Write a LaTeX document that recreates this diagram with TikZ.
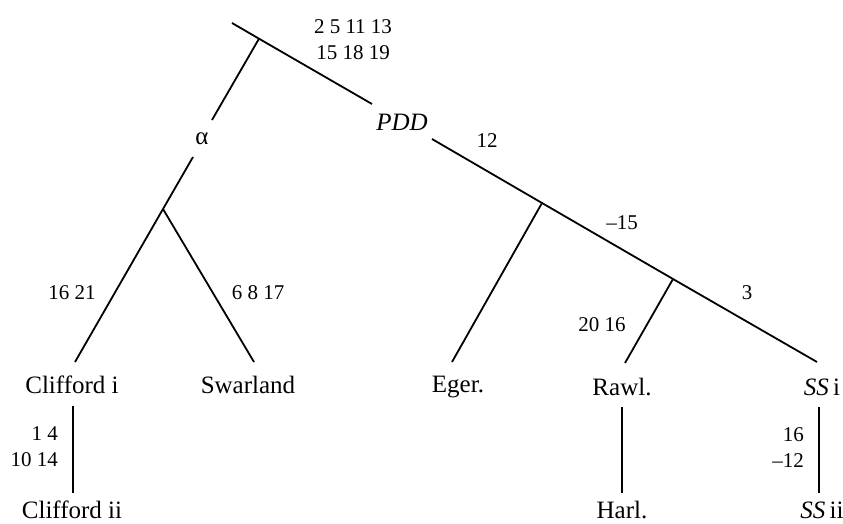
\documentclass[tikz,border=0pt]{standalone}
\usepackage{fontspec}
\setmainfont{Liberation Serif}
\begin{document}
\begin{tikzpicture}[x=1pt,y=-1pt,
  edge/.style={line width=1.8pt,line cap=butt},
  wit/.style={font=\fontsize{25}{30}\selectfont,inner sep=0pt},
  num/.style={font=\fontsize{21}{26}\selectfont,inner sep=0pt},
  numr/.style={num,align=right,anchor=east}]
\useasboundingbox (0,0) rectangle (843,524);
% junctions and line ends
\coordinate (r) at (232,23);
\coordinate (j1) at (259,38.7);
\coordinate (pin) at (372,104);
\coordinate (pout) at (432,139);
\coordinate (je) at (542,203);
\coordinate (jr) at (673,279);
\coordinate (sse) at (817,362);
\coordinate (a1) at (212,120);
\coordinate (a2) at (193,157);
\coordinate (j2) at (163,209);
\coordinate (ce) at (75,362);
\coordinate (swe) at (254,362);
\coordinate (ege) at (452,362);
\coordinate (rwe) at (625,363);
\coordinate (v1a) at (73,406);
\coordinate (v1b) at (73,493);
\coordinate (v2a) at (622,407);
\coordinate (v2b) at (622,493);
\coordinate (v3a) at (819,407);
\coordinate (v3b) at (819,493);
% labels
\node[num,align=center] (top) at (353,40) {2 5 11 13\\15 18 19};
\node[wit] (alpha) at (202,139) {α};
\node[wit] (pdd) at (402,122) {\itshape PDD};
\node[num] (n12) at (487,141) {12};
\node[num] (n15) at (622,223) {–15};
\node[num] (n3) at (747,293) {3};
\node[num] (n2016) at (602,325) {20 16};
\node[num] (n1621) at (72,293) {16 21};
\node[num] (n6817) at (258,293) {6 8 17};
\node[numr] (n14) at (58,447) {1 4\\10 14};
\node[numr] (n16) at (804,448) {16\\–12};
\node[wit] (cliffi) at (72,385) {Clifford i};
\node[wit] (swar) at (248,385) {Swarland};
\node[wit] (eger) at (458,387) {Eger.};
\node[wit] (rawl) at (622,387) {Rawl.};
\node[wit] (ssi) at (822,387) {\textit{SS}\,i};
\node[wit] (cliffii) at (72,510) {Clifford ii};
\node[wit] (harl) at (622,510) {Harl.};
\node[wit] (ssii) at (822,510) {\textit{SS}\,ii};
% edges
\draw[edge] (r) -- (j1) -- (pin);
\draw[edge] (pout) -- (je) -- (jr) -- (sse);
\draw[edge] (j1) -- (a1);
\draw[edge] (a2) -- (j2);
\draw[edge] (j2) -- (ce);
\draw[edge] (j2) -- (swe);
\draw[edge] (je) -- (ege);
\draw[edge] (jr) -- (rwe);
\draw[edge] (v1a) -- (v1b);
\draw[edge] (v2a) -- (v2b);
\draw[edge] (v3a) -- (v3b);
\end{tikzpicture}
\end{document}
